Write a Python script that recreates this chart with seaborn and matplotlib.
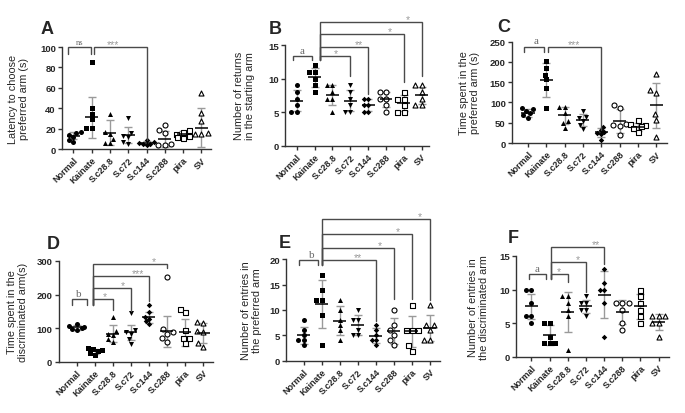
import numpy as np
import pandas as pd
import matplotlib
matplotlib.use("Agg")
import matplotlib.pyplot as plt
import seaborn as sns

groups = ["Normal", "Kainate", "S.c28.8", "S.c72", "S.c144", "S.c288", "pira", "SV"]

# values, 6 animals per group
latency = [[17, 16, 14, 12, 9, 7], [85, 40, 34, 29, 21, 21], [34, 17, 15, 10, 6, 6],
           [30, 16, 13, 12, 7, 5], [9, 7, 6, 5, 5, 4], [24, 19, 16, 5, 4, 4],
           [19, 17, 15, 13, 12, 11], [55, 35, 27, 16, 15, 15]]
latency_mean = [13, 31, 16, 13.5, 6, 10, 15, 21]
latency_sd = [3.5, 20, 12, 8, 2, 8, 3, 19]

returns = [[9, 8, 7, 6, 5, 5], [12, 11, 11, 10, 9, 8], [9, 9, 8, 7, 7, 5],
           [9, 8, 7, 6, 5, 5], [7, 7, 6, 6, 5, 5], [8, 8, 7, 7, 6, 5],
           [8, 7, 7, 6, 5, 5], [9, 9, 8, 7, 6, 6]]
returns_mean = [6.7, 10.2, 7.5, 6.7, 6, 6.9, 6.4, 7.5]
returns_sd = [1.6, 1.4, 1.5, 1.6, 0.9, 1.1, 1.2, 1.3]

time_pref = [[87, 84, 79, 73, 68, 62], [202, 186, 169, 157, 135, 86], [90, 88, 75, 55, 50, 38],
             [80, 65, 62, 55, 45, 35], [40, 32, 28, 24, 22, 8], [93, 87, 46, 44, 41, 19],
             [56, 47, 44, 41, 37, 28], [171, 130, 123, 71, 56, 16]]
time_pref_mean = [74, 155, 68, 56, 27, 54, 40, 93]
time_pref_sd = [9, 42, 20, 15, 11, 29, 10, 56]

time_disc = [[113, 106, 102, 99, 97, 93], [40, 37, 34, 31, 25, 20], [134, 90, 84, 79, 67, 60],
             [144, 94, 87, 84, 67, 53], [168, 148, 133, 128, 120, 113], [251, 97, 87, 82, 70, 58],
             [157, 147, 94, 72, 72, 55], [118, 115, 92, 87, 57, 45]]
time_disc_mean = [102, 31, 84, 87, 132, 90, 88, 86]
time_disc_sd = [7, 8, 24, 22, 17, 45, 40, 30]

entries_pref = [[8, 6, 5, 4, 4, 3], [17, 14, 12, 12, 9, 3], [12, 10, 8, 7, 6, 4],
                [10, 8, 8, 6, 5, 5], [7, 6, 5, 4, 4, 3], [10, 7, 6, 5, 4, 3],
                [11, 6, 6, 6, 3, 2], [11, 7, 7, 6, 4, 4]]
entries_pref_mean = [5, 11.2, 7.9, 7, 4.9, 5.8, 5.8, 6.5]
entries_pref_sd = [1.7, 4.7, 2.9, 2, 1.5, 2.6, 3.1, 2.6]

entries_disc = [[10, 10, 8, 6, 6, 5], [5, 5, 3, 2, 2, 2], [9, 9, 8, 7, 6, 1],
                [9, 8, 8, 7, 7, 6], [13, 11, 10, 10, 8, 3], [8, 8, 8, 7, 5, 4],
                [10, 9, 8, 7, 6, 5], [6, 6, 6, 5, 5, 3]]
entries_disc_mean = [7.5, 3.2, 6.7, 7.5, 9.2, 6.7, 7.5, 5.2]
entries_disc_sd = [1.9, 1.5, 3, 1, 3.5, 1.8, 1.9, 1.2]

# significance brackets: label, x start, x end, bar height, left leg end, right leg end, label x
brackets_a = [("ns", -0.27, 0.95, 100, 93, 93, 0.37), ("***", 1.15, 4, 100, 93, 9, 2.19)]
brackets_b = [("a", -0.22, 0.84, 13.4, 12.7, 12.7, 0.3), ("*", 1.3, 3, 13.4, 12.7, 10.4, 2.2),
              ("**", 1.3, 4, 14.75, 12.7, 7.7, 3.49), ("*", 1.3, 6, 16.7, 12.7, 9.5, 5.2),
              ("*", 1.3, 7, 18.5, 12.7, 10.4, 6.23)]
brackets_c = [("a", -0.22, 0.89, 238, 224, 224, 0.44), ("***", 1.08, 4, 238, 224, 32, 2.53)]
brackets_d = [("b", -0.24, 0.55, 186, 168, 168, 0.1), ("*", 0.89, 2, 186, 168, 154, 1.57),
              ("*", 0.89, 3, 220, 168, 151, 2.58), ("***", 0.89, 4, 255, 168, 181, 3.41),
              ("*", 0.89, 5, 290, 168, 279, 4.25)]
brackets_e = [("b", -0.24, 0.8, 19.8, 18.8, 18.8, 0.42), ("**", 1.01, 4, 19.8, 18.8, 7.9, 3.01),
              ("*", 1.01, 5, 22.3, 18.8, 12.2, 4.21), ("*", 1.01, 6, 24.9, 18.8, 12.2, 5.23),
              ("*", 1.01, 7, 28.0, 18.8, 12.0, 6.43)]
brackets_f = [("a", -0.11, 0.82, 12.3, 11.5, 11.5, 0.31), ("*", 1.1, 2, 12.3, 11.5, 11.1, 1.54),
              ("*", 1.1, 3, 14.1, 11.5, 9.6, 2.55), ("**", 1.1, 4, 16.4, 11.5, 13.8, 3.55)]

markers = ["o", "s", "^", "v", "D", "o", "s", "^"]
filled = [True, True, True, True, True, False, False, False]

sns.set_style("ticks")
plt.rcParams["font.family"] = ["Liberation Sans", "DejaVu Sans"]

W, H = 685, 414
fig = plt.figure(figsize=(W / 100, H / 100), dpi=100)

# panel geometry in pixels: spine x, first category x, spacing, top y, bottom y, right pad
panels = [
    ("A", latency, latency_mean, latency_sd, brackets_a, 100, 20,
     "Latency to choose\npreferred arm (s)", (62, 73.3, 18.3, 48, 150, 0.55), (47, 30), 29),
    ("B", returns, returns_mean, returns_sd, brackets_b, 15, 5,
     "Number of returns\nin the starting arm", (285, 296.7, 17.86, 46, 146.7, 0.4), (275, 30), 255),
    ("C", time_pref, time_pref_mean, time_pref_sd, brackets_c, 250, 50,
     "Time spent in the\npreferred arm (s)", (512, 528, 18.3, 42.7, 144, 0.6), (504, 28), 480),
    ("D", time_disc, time_disc_mean, time_disc_sd, brackets_d, 300, 100,
     "Time spent in the\ndiscriminated arm(s)", (58.5, 76.7, 18.05, 262, 362.7, 0.55), (53, 245), 28),
    ("E", entries_pref, entries_pref_mean, entries_pref_sd, brackets_e, 20, 5,
     "Number of entries in\nthe preferred arm", (286.3, 303.7, 18.04, 260.3, 361.7, 0.55), (285, 244), 262),
    ("F", entries_disc, entries_disc_mean, entries_disc_sd, brackets_f, 15, 5,
     "Number of entries in\nthe discriminated arm", (516, 531.3, 18.2, 257, 357.7, 0.55), (513, 239), 489),
]

for letter, vals, means, sds, brackets, ytop, ystep, ylabel, geo, lpos, ylab_x in panels:
    spine, first, sp, top, bot, rpad = geo
    x0 = -(first - spine) / sp
    x1 = 7 + rpad
    width = (x1 - x0) * sp
    ax = fig.add_axes([spine / W, 1 - bot / H, width / W, (bot - top) / H])

    df = pd.DataFrame({"group": np.repeat(groups, [len(v) for v in vals]),
                       "value": np.concatenate(vals)})
    for i, g in enumerate(groups):
        sub = df[df["group"] == g]
        sns.swarmplot(data=sub, x="group", y="value", order=groups, ax=ax,
                      marker=markers[i], size=2.8 if markers[i] == "D" else 3.6,
                      color="black" if filled[i] else "white",
                      edgecolor="black", linewidth=0 if filled[i] else 0.8, zorder=3)

    xs = np.arange(len(groups))
    ax.errorbar(xs, means, yerr=sds, fmt="none", ecolor="#9a9a9a",
                elinewidth=1.0, capsize=2.6, capthick=1.0, zorder=2)
    ax.hlines(means, xs - 0.36, xs + 0.36, color="black", lw=1.1, zorder=4)

    for lab, bx1, bx2, by, lend, rend, tx in brackets:
        ax.plot([bx1, bx1, bx2, bx2], [lend, by, by, rend], color="#4a4a4a",
                lw=1.0, clip_on=False, zorder=5, solid_joinstyle="miter")
        if lab in ("a", "b", "ns"):
            ax.annotate(lab, (tx, by), xytext=(0, 0.8), textcoords="offset points",
                        ha="center", va="bottom", fontsize=8 if lab != "ns" else 6,
                        family="Liberation Serif", color="#6a6a6a", annotation_clip=False)
        else:
            ax.annotate(lab, (tx, by), xytext=(0, -1.5), textcoords="offset points",
                        ha="center", va="bottom", fontsize=7.5, color="#9a9a9a",
                        annotation_clip=False)

    ax.set_xlim(x0, x1)
    ax.set_ylim(0, ytop)
    ax.set_yticks(np.arange(0, ytop + ystep / 2, ystep))
    ax.set_xticks(xs)
    ax.set_xticklabels(groups, rotation=45, ha="right", rotation_mode="anchor",
                       fontsize=6.5, fontweight="bold")
    for t in ax.get_yticklabels():
        t.set_fontsize(6.8)
        t.set_fontweight("bold")
    ax.set_xlabel("")
    ax.set_ylabel(ylabel, fontsize=7.8, linespacing=1.15)
    ax.yaxis.set_label_coords((ylab_x - spine) / width, 0.5)
    sns.despine(ax=ax)
    for s in ("left", "bottom"):
        ax.spines[s].set_linewidth(1.0)
        ax.spines[s].set_color("#333333")
    ax.tick_params(length=3, width=1.0, color="#333333", pad=1.5)

    fig.text(lpos[0] / W, 1 - lpos[1] / H, letter, fontsize=13, fontweight="bold",
             ha="center", va="center")

fig.savefig("out.png", dpi=100)
